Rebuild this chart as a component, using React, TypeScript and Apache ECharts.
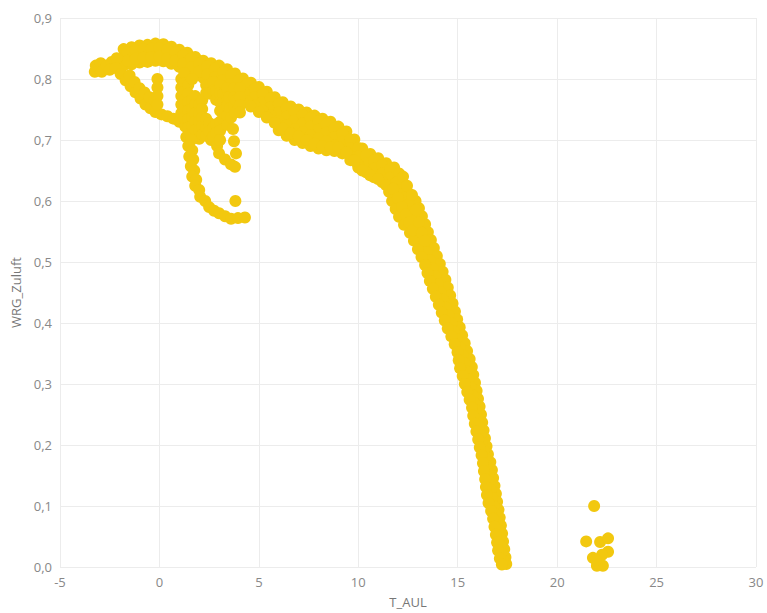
import React, { useEffect, useRef } from "react";
import * as echarts from "echarts";

const xTicks = [-5, 0, 5, 10, 15, 20, 25, 30];
const yTicks = [0, 0.1, 0.2, 0.3, 0.4, 0.5, 0.6, 0.7, 0.8, 0.9];

// upper band: shared x positions, several rows of y values
const bandX = [-1.8,-1.4,-1.0,-0.6,-0.2,0.2,0.6,1.0,1.4,1.8,2.2,2.6,3.0,3.4,3.8,4.2,4.6,5.0,5.4,5.8,6.2,6.6,7.0,7.4,7.8,8.2,8.6,9.0,9.4,9.8,10.2,10.6,11.0,11.4,11.8];
const bandTopY = [0.849,0.852,0.855,0.856,0.858,0.857,0.853,0.848,0.843,0.836,0.830,0.826,0.822,0.816,0.809,0.801,0.794,0.787,0.779,0.770,0.762,0.755,0.750,0.745,0.740,0.735,0.730,0.722,0.714,0.701,0.686,0.677,0.670,0.662,0.655];
const bandMidY = [0.835,0.838,0.841,0.842,0.844,0.843,0.839,0.834,0.829,0.822,0.816,0.812,0.808,0.802,0.795,0.787,0.780,0.773,0.765,0.756,0.748,0.741,0.736,0.731,0.726,0.721,0.716,0.708,0.700,0.687,0.672,0.663,0.656,0.648,0.641];
const bandLowY = [0.822,0.824,0.827,0.828,0.830,0.829,0.825,0.820,0.815,0.808,0.802,0.798,0.794,0.788,0.781,0.773,0.766,0.759,0.751,0.742,0.734,0.727,0.722,0.717,0.712,0.707,0.702,0.696,0.690,0.675,0.660,0.650,0.643,0.636,0.630];
const bandBottomX = [4.2,4.6,5.0,5.4,5.8,6.2,6.6,7.0,7.4,7.8,8.2,8.6,9.0,9.4,9.8,10.2,10.6,11.0,11.4,11.8];
const bandBottomY = [0.762,0.755,0.746,0.737,0.728,0.719,0.711,0.706,0.700,0.694,0.690,0.688,0.688,0.680,0.666,0.650,0.642,0.636,0.626,0.612];

// staggered rows between the ones above
const bandX2 = [-1.6,-1.2,-0.8,-0.4,0.0,0.4,0.8,1.2,1.6,2.0,2.4,2.8,3.2,3.6,4.0,4.4,4.8,5.2,5.6,6.0,6.4,6.8,7.2,7.6,8.0,8.4,8.8,9.2,9.6,10.0,10.4,10.8,11.2,11.6];
const bandAY = [0.844,0.847,0.849,0.850,0.851,0.848,0.844,0.839,0.833,0.826,0.821,0.817,0.812,0.806,0.798,0.791,0.784,0.776,0.768,0.759,0.752,0.746,0.741,0.736,0.731,0.726,0.719,0.711,0.701,0.687,0.675,0.667,0.659,0.652];
const bandBY = [0.830,0.833,0.835,0.836,0.837,0.834,0.830,0.825,0.819,0.812,0.807,0.803,0.798,0.792,0.784,0.777,0.770,0.762,0.754,0.745,0.738,0.732,0.727,0.722,0.717,0.712,0.705,0.697,0.687,0.673,0.661,0.653,0.645,0.638];
const bandCX = [4.0,4.4,4.8,5.2,5.6,6.0,6.4,6.8,7.2,7.6,8.0,8.4,8.8,9.2,9.6,10.0,10.4,10.8,11.2,11.6];
const bandCY = [0.770,0.763,0.756,0.748,0.740,0.731,0.724,0.718,0.713,0.708,0.703,0.698,0.691,0.683,0.673,0.659,0.647,0.639,0.631,0.624];
const bandEX = [6.0,6.4,6.8,7.2,7.6,8.0,8.4,8.8,9.2,9.6,10.0];
const bandEY = [0.716,0.707,0.700,0.695,0.690,0.686,0.683,0.682,0.678,0.667,0.655];

const descentRight = [[12.05,0.645],[12.25,0.625],[12.55,0.612],[12.88,0.600],[13.05,0.588],[13.2,0.575],[13.36,0.562],[13.5,0.549],[13.65,0.536],[13.8,0.523],[13.95,0.510],[14.1,0.497],[14.24,0.484],[14.38,0.471],[14.5,0.458],[14.62,0.445],[14.74,0.432],[14.86,0.419],[14.97,0.406],[15.1,0.393],[15.22,0.380],[15.35,0.367],[15.47,0.354],[15.6,0.341],[15.71,0.328],[15.78,0.315],[15.87,0.302],[15.95,0.289],[16.02,0.276],[16.1,0.263],[16.17,0.250],[16.23,0.237],[16.3,0.224],[16.37,0.211],[16.45,0.198],[16.52,0.185],[16.64,0.172],[16.72,0.159],[16.78,0.146],[16.85,0.133],[16.92,0.120],[16.98,0.107],[17.05,0.094],[17.11,0.081],[17.17,0.068],[17.23,0.055],[17.28,0.042],[17.34,0.029],[17.4,0.016],[17.44,0.005]];
const descentMid = [[11.9,0.630],[12.1,0.618],[12.35,0.606],[12.5,0.594],[12.65,0.581],[12.8,0.568],[12.97,0.555],[13.12,0.542],[13.28,0.529],[13.45,0.516],[13.6,0.503],[13.74,0.490],[13.87,0.477],[14.0,0.464],[14.13,0.451],[14.27,0.438],[14.4,0.425],[14.54,0.412],[14.68,0.399],[14.82,0.386],[14.96,0.373],[15.1,0.360],[15.25,0.347],[15.35,0.334],[15.45,0.321],[15.55,0.308],[15.64,0.295],[15.74,0.282],[15.84,0.269],[15.92,0.256],[15.99,0.243],[16.06,0.230],[16.14,0.217],[16.22,0.204],[16.3,0.191],[16.38,0.178],[16.46,0.165],[16.54,0.152],[16.6,0.139],[16.66,0.126],[16.72,0.113],[16.8,0.100],[16.88,0.087],[16.95,0.074],[17.03,0.061],[17.1,0.048],[17.15,0.035],[17.2,0.022],[17.28,0.010]];
const descentLeft = [[11.7,0.600],[11.88,0.587],[12.05,0.574],[12.3,0.561],[12.6,0.548],[12.8,0.535],[13.0,0.521],[13.18,0.508],[13.36,0.495],[13.48,0.482],[13.6,0.469],[13.75,0.456],[13.9,0.443],[14.05,0.430],[14.2,0.417],[14.35,0.404],[14.5,0.391],[14.68,0.378],[14.85,0.365],[14.99,0.352],[15.05,0.339],[15.12,0.326],[15.25,0.313],[15.36,0.300],[15.48,0.287],[15.6,0.274],[15.72,0.261],[15.78,0.248],[15.86,0.235],[15.94,0.222],[16.03,0.209],[16.11,0.196],[16.2,0.183],[16.27,0.170],[16.32,0.157],[16.38,0.144],[16.42,0.131],[16.47,0.118],[16.55,0.105],[16.68,0.092],[16.78,0.079],[16.85,0.066],[16.92,0.053],[16.98,0.040],[17.03,0.027],[17.12,0.014],[17.22,0.004]];
const descentTopFill = [[11.55,0.615],[11.75,0.62],[12.0,0.605],[12.2,0.59],[12.4,0.578],[12.55,0.565],[12.75,0.552],[12.25,0.64],[12.45,0.625],[12.7,0.61],[12.9,0.585],[13.05,0.565],[13.2,0.548],[13.35,0.535]];

const leftCluster = [[-3.25,0.812],[-3.2,0.822],[-2.95,0.826],[-2.9,0.812],[-2.65,0.822],[-2.4,0.828],[-2.15,0.834],[-2.5,0.815]];
const lowerStrand = [[-2.2,0.818],[-1.95,0.808],[-1.7,0.798],[-1.45,0.788],[-1.2,0.778],[-0.95,0.768],[-0.7,0.758],[-0.45,0.752],[-0.2,0.746],[0.1,0.742],[0.4,0.739],[0.7,0.735],[1.0,0.73],[1.3,0.722]];
const innerStrand = [[-1.5,0.806],[-1.25,0.795],[-1.0,0.785],[-0.75,0.778],[-0.5,0.77],[-0.25,0.765]];
const loops = [
  [-0.1,0.80],[-0.1,0.786],[-0.1,0.772],[-0.1,0.758],
  [1.1,0.80],[1.1,0.786],[1.1,0.772],[1.1,0.758],[1.1,0.744],
  [1.25,0.81],[1.25,0.793],[1.25,0.779],[1.25,0.765],[1.25,0.751],[1.25,0.737],
  [1.45,0.79],[1.45,0.776],[1.45,0.762],[1.45,0.748],[1.45,0.734],[1.45,0.72],
  [1.65,0.80],[1.65,0.765],[1.65,0.751],[1.65,0.737],[1.65,0.723],[1.65,0.709],
  [1.8,0.772],[1.8,0.758],[1.8,0.744],[1.8,0.73],[1.8,0.716],
  [2.0,0.758],[2.0,0.744],[2.0,0.73],[2.0,0.716],[2.0,0.702],
  [2.15,0.765],[2.15,0.751],[2.15,0.737],[2.15,0.723],[2.15,0.709],
  [2.35,0.79],[2.35,0.777],[2.35,0.735],[2.35,0.721],[2.35,0.707],
  [2.5,0.776],[2.5,0.728],[2.5,0.714],[2.6,0.70],
  [2.7,0.795],[2.7,0.781],[2.7,0.72],[2.7,0.706],
  [2.85,0.78],[2.85,0.766],[2.85,0.726],[2.85,0.712],[2.9,0.69],[3.0,0.678],
  [3.05,0.79],[3.05,0.777],[3.05,0.762],[3.05,0.748],[3.05,0.73],[3.05,0.715],[3.05,0.70],
  [3.2,0.776],[3.2,0.762],[3.2,0.748],[3.2,0.735],[3.3,0.668],
  [3.4,0.785],[3.4,0.77],[3.4,0.756],[3.4,0.74],[3.4,0.725],
  [3.5,0.77],[3.55,0.752],[3.6,0.737],[3.6,0.66],
  [3.75,0.785],[3.75,0.77],[3.75,0.756],
  [3.85,0.765],[3.8,0.745],[3.7,0.718],[3.75,0.698],[3.85,0.678],[3.8,0.656],
  [4.05,0.785],[4.05,0.77],[4.05,0.757],[4.05,0.745]
];
const tail = [[1.35,0.705],[1.6,0.70],[1.45,0.69],[1.65,0.683],[1.5,0.673],[1.7,0.668],[1.58,0.657],[1.75,0.65],[1.65,0.64],[1.85,0.635],[1.8,0.625],[2.0,0.618],[2.05,0.607],[2.3,0.6],[2.5,0.59],[2.75,0.584],[3.0,0.58],[3.3,0.575],[3.6,0.571],[3.95,0.572],[4.3,0.573],[3.82,0.60]];
const outliers = [[21.86,0.1],[21.46,0.042],[22.16,0.041],[22.56,0.047],[22.56,0.025],[21.8,0.015],[22.26,0.02],[22.3,0.002],[22.0,0.002],[21.95,0.012]];

const fmtY = (v: number) => v.toFixed(1).replace(".", ",");

export default function App() {
  const ref = useRef<HTMLDivElement>(null);
  useEffect(() => {
    if (!ref.current) return;
    const chart = echarts.init(ref.current, null, { renderer: "svg" });
    const pts: number[][] = [];
    bandX.forEach((x, i) => {
      pts.push([x, bandTopY[i]], [x, bandMidY[i]], [x, bandLowY[i]]);
    });
    bandX2.forEach((x, i) => {
      pts.push([x, bandAY[i]], [x, bandBY[i]]);
    });
    bandCX.forEach((x, i) => pts.push([x, bandCY[i]]));
    bandEX.forEach((x, i) => pts.push([x, bandEY[i]]));
    bandBottomX.forEach((x, i) => pts.push([x, bandBottomY[i]]));
    [descentRight, descentMid, descentLeft, descentTopFill, leftCluster, lowerStrand, innerStrand, loops, tail, outliers].forEach(
      (arr) => arr.forEach((p) => pts.push(p))
    );
    const font = "'Segoe UI', 'Open Sans', sans-serif";
    chart.setOption({
      animation: false,
      grid: { left: 60, right: 11, top: 18, bottom: 44, containLabel: false },
      xAxis: {
        type: "value",
        min: xTicks[0],
        max: xTicks[xTicks.length - 1],
        interval: 5,
        name: "T_AUL",
        nameLocation: "middle",
        nameGap: 28,
        nameTextStyle: { color: "#777", fontSize: 13, fontFamily: font },
        axisLine: { show: false },
        axisTick: { show: false },
        axisLabel: { color: "#888", fontSize: 13, fontFamily: font, margin: 8 },
        splitLine: { show: true, lineStyle: { color: "#ECECEC", width: 1 } },
      },
      yAxis: {
        type: "value",
        min: yTicks[0],
        max: yTicks[yTicks.length - 1],
        interval: 0.1,
        name: "WRG_Zuluft",
        nameLocation: "middle",
        nameGap: 34,
        nameTextStyle: { color: "#777", fontSize: 13, fontFamily: font },
        axisLine: { show: false },
        axisTick: { show: false },
        axisLabel: { color: "#888", fontSize: 13, fontFamily: font, margin: 8, formatter: fmtY },
        splitLine: { show: true, lineStyle: { color: "#ECECEC", width: 1 } },
      },
      series: [
        {
          type: "scatter",
          data: pts,
          symbol: "circle",
          symbolSize: 12,
          itemStyle: { color: "#F2C80F", opacity: 1 },
        },
      ],
    });
    return () => chart.dispose();
  }, []);
  return <div ref={ref} style={{ width: 767, height: 613, position: "absolute", left: 0, top: 0 }} />;
}
